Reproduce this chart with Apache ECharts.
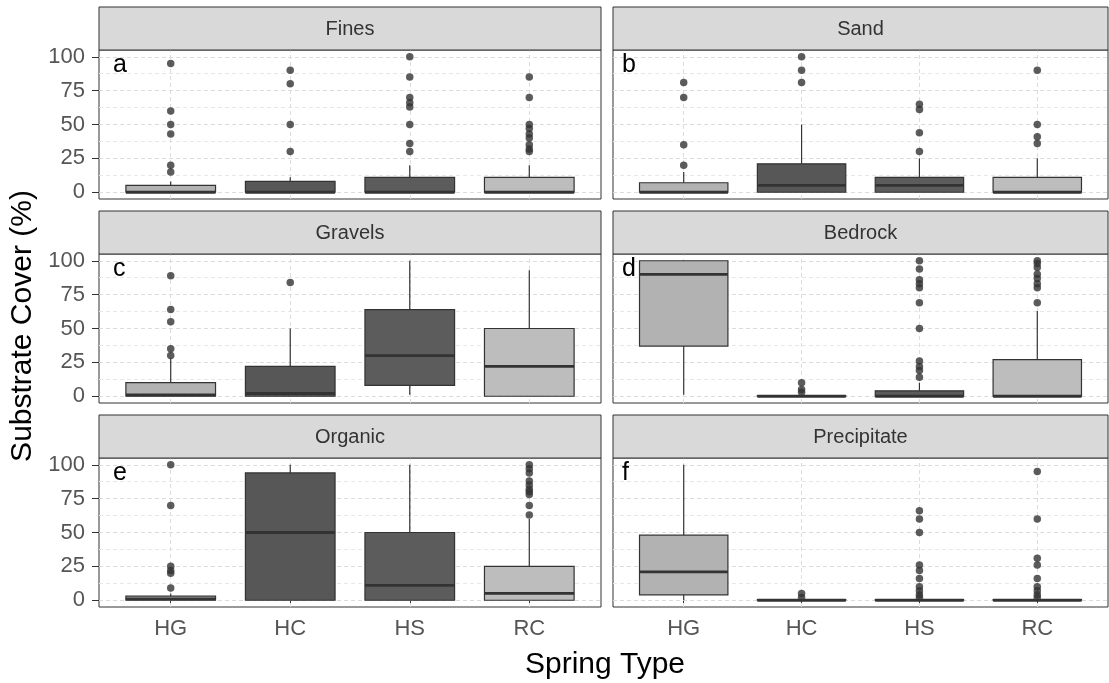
<!DOCTYPE html>
<html>
<head>
<meta charset="utf-8">
<script src="https://cdn.jsdelivr.net/npm/echarts@6/dist/echarts.min.js"></script>
<style>
html,body{margin:0;padding:0;background:#fff;}
#chart{width:1109px;height:683px;}
</style>
</head>
<body>
<div id="chart"></div>
<script>
// ---------- DATA ----------
const categories = ['HG', 'HC', 'HS', 'RC'];
const facets = ['Fines', 'Sand', 'Gravels', 'Bedrock', 'Organic', 'Precipitate'];
const panelLetters = ['a', 'b', 'c', 'd', 'e', 'f'];
const yTicks = [0, 25, 50, 75, 100];
const yMinorGrid = [12.5, 37.5, 62.5, 87.5];

// box stats per category: [lower whisker, Q1, median, Q3, upper whisker]
const finesBox = [[0, 0, 0, 5, 8], [0, 0, 0, 8, 11], [0, 0, 0, 11, 20], [0, 0, 0, 11, 20]];
const finesOut = [[95, 60, 50, 43, 20, 15], [90, 80, 50, 30], [100, 85, 70, 66, 63, 50, 36, 30], [85, 70, 50, 47, 43, 40, 35, 32, 30]];

const sandBox = [[0, 0, 0, 7, 15], [0, 0, 5, 21, 50], [0, 0, 5, 11, 25], [0, 0, 0, 11, 25]];
const sandOut = [[81, 70, 35, 20], [100, 90, 81], [65, 61, 44, 30], [90, 50, 41, 36]];

const gravelsBox = [[0, 0, 1, 10, 28], [0, 0, 2, 22, 50], [1, 8, 30, 64, 100], [0, 0, 22, 50, 93]];
const gravelsOut = [[89, 64, 55, 35, 30], [84], [], []];

const bedrockBox = [[1, 37, 90, 100, 100], [0, 0, 0, 0.5, 1], [0, 0, 0, 4, 10], [0, 0, 0, 27, 63]];
const bedrockOut = [[], [10, 5, 3], [100, 94, 86, 83, 80, 69, 50, 26, 22, 19, 14], [100, 98, 95, 90, 87, 83, 80, 69]];

const organicBox = [[0, 0, 1, 3, 5], [0, 0, 50, 94, 100], [0, 0, 11, 50, 100], [0, 0, 5, 25, 60]];
const organicOut = [[100, 70, 25, 22, 20, 9], [], [], [100, 97, 94, 88, 85, 82, 80, 78, 70, 63]];

const precipitateBox = [[0, 4, 21, 48, 100], [0, 0, 0, 0.5, 0.5], [0, 0, 0, 0.5, 0.5], [0, 0, 0, 0.5, 0.5]];
const precipitateOut = [[], [5, 2], [66, 60, 50, 26, 22, 16, 10, 7, 4, 2], [95, 60, 31, 26, 16, 10, 7, 4, 2]];

const boxSets = [finesBox, sandBox, gravelsBox, bedrockBox, organicBox, precipitateBox];
const outSets = [finesOut, sandOut, gravelsOut, bedrockOut, organicOut, precipitateOut];

// ---------- STYLE / LAYOUT ----------
const boxFill = ['#B2B2B2', '#575757', '#5C5C5C', '#BDBDBD'];
const FONT = '"Liberation Sans", Arial, sans-serif';
const colLeft = [99, 613];
const colWidth = [502, 495];
const letterOffset = [14, 9];
const rowStripTop = [7, 211, 415];
const stripH = 43;
const panelH = 149;

const chart = echarts.init(document.getElementById('chart'), null, {renderer: 'canvas'});

function renderBox(params, api) {
  const x = api.value(0);
  const p = [1, 2, 3, 4, 5].map(i => api.coord([x, api.value(i)]));
  const half = api.size([0.75, 0])[0] / 2;
  const cx = p[0][0];
  const stroke = '#333333';
  return {
    type: 'group',
    children: [
      {type: 'line', shape: {x1: cx, y1: p[0][1], x2: cx, y2: p[1][1]}, style: {stroke: stroke, lineWidth: 1.2}},
      {type: 'line', shape: {x1: cx, y1: p[3][1], x2: cx, y2: p[4][1]}, style: {stroke: stroke, lineWidth: 1.2}},
      {type: 'rect', shape: {x: cx - half, y: p[3][1], width: 2 * half, height: p[1][1] - p[3][1]},
        style: {fill: boxFill[api.value(6)], stroke: stroke, lineWidth: 1.2}},
      {type: 'line', shape: {x1: cx - half, y1: p[2][1], x2: cx + half, y2: p[2][1]}, style: {stroke: stroke, lineWidth: 2.8}}
    ]
  };
}

const grids = [], xAxes = [], yAxes = [], series = [], graphics = [];

facets.forEach((name, f) => {
  const row = Math.floor(f / 2), col = f % 2;
  const top = rowStripTop[row] + stripH;
  grids.push({
    left: colLeft[col], top: top, width: colWidth[col], height: panelH,
    show: true, borderColor: '#333333', borderWidth: 1, backgroundColor: '#ffffff', containLabel: false
  });
  const bottomRow = row === 2;
  const leftCol = col === 0;
  xAxes.push({
    type: 'value', gridIndex: f, min: 0.4, max: 4.6,
    axisLine: {show: false},
    splitLine: {show: false},
    axisTick: {show: bottomRow, customValues: [1, 2, 3, 4], length: 6, lineStyle: {color: '#333333', width: 1}},
    axisLabel: {
      show: bottomRow, customValues: [1, 2, 3, 4], margin: 11,
      formatter: v => categories[Math.round(v) - 1],
      color: '#555555', fontSize: 22, fontFamily: FONT
    }
  });
  yAxes.push({
    type: 'value', gridIndex: f, min: -5, max: 105,
    axisLine: {show: false},
    splitLine: {show: false},
    axisTick: {show: leftCol, customValues: yTicks, length: 7, lineStyle: {color: '#333333', width: 1}},
    axisLabel: {
      show: leftCol, customValues: yTicks, margin: 14,
      color: '#555555', fontSize: 22, fontFamily: FONT
    }
  });

  // gridlines via markLine (kept beneath the boxes)
  series.push({
    type: 'line', xAxisIndex: f, yAxisIndex: f, data: [[0.4, -5]], showSymbol: false, symbol: 'none',
    lineStyle: {opacity: 0}, silent: true, z: 1,
    markLine: {
      silent: true, symbol: 'none', label: {show: false}, animation: false, z: 1,
      data: [
        ...yTicks.map(v => ({yAxis: v, lineStyle: {color: '#DCDCDC', type: [4, 3], width: 1}})),
        ...yMinorGrid.map(v => ({yAxis: v, lineStyle: {color: '#E8E8E8', type: [4, 3], width: 1}})),
        ...categories.map((c, i) => ({xAxis: i + 1, lineStyle: {color: '#DCDCDC', type: [4, 3], width: 1}}))
      ]
    }
  });

  // boxes
  series.push({
    type: 'custom', xAxisIndex: f, yAxisIndex: f, z: 6, silent: true,
    renderItem: renderBox,
    encode: {x: 0, y: [1, 2, 3, 4, 5]},
    data: boxSets[f].map((b, i) => [i + 1, b[0], b[1], b[2], b[3], b[4], i])
  });

  // outliers
  const pts = [];
  outSets[f].forEach((vals, i) => vals.forEach(v => pts.push([i + 1, v])));
  series.push({
    type: 'scatter', xAxisIndex: f, yAxisIndex: f, z: 7, silent: true,
    symbol: 'circle', symbolSize: 7.5,
    itemStyle: {color: '#333333'},
    data: pts
  });

  // strip
  graphics.push({
    type: 'rect', shape: {x: colLeft[col], y: rowStripTop[row], width: colWidth[col], height: stripH},
    style: {fill: '#D9D9D9', stroke: '#333333', lineWidth: 1}, z: 10
  });
  graphics.push({
    type: 'text', x: colLeft[col] + colWidth[col] / 2, y: rowStripTop[row] + stripH / 2 + 1,
    style: {text: name, font: '20px ' + FONT, fill: '#333333', align: 'center', verticalAlign: 'middle'}, z: 11
  });
  // panel letter
  graphics.push({
    type: 'text', x: colLeft[col] + letterOffset[col], y: top + 3,
    style: {text: panelLetters[f], font: '25px ' + FONT, fill: '#000000', align: 'left', verticalAlign: 'top'}, z: 11
  });
});

// axis titles
graphics.push({
  type: 'text', x: 605, y: 665,
  style: {text: 'Spring Type', font: '30px ' + FONT, fill: '#000000', align: 'center', verticalAlign: 'middle'}, z: 11
});
graphics.push({
  type: 'text', x: 23, y: 326, rotation: Math.PI / 2,
  style: {text: 'Substrate Cover (%)', font: '30px ' + FONT, fill: '#000000', align: 'center', verticalAlign: 'middle'}, z: 11
});

chart.setOption({
  animation: false,
  backgroundColor: '#ffffff',
  grid: grids,
  xAxis: xAxes,
  yAxis: yAxes,
  series: series,
  graphic: graphics
});
</script>
</body>
</html>
